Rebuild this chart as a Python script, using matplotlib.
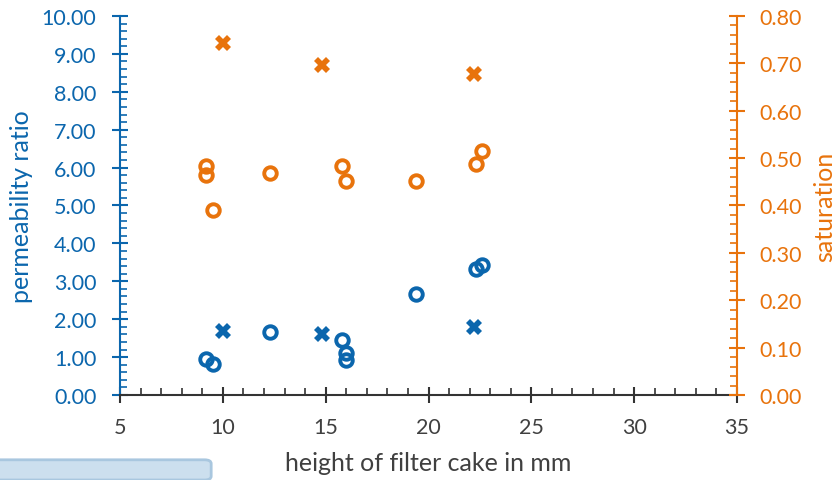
import matplotlib
matplotlib.use("Agg")
import matplotlib.pyplot as plt
from matplotlib.ticker import MultipleLocator, FormatStrFormatter
from matplotlib.patches import FancyBboxPatch

plt.rcParams['font.family'] = ['Lato', 'DejaVu Sans']

BLUE = '#0B66AD'
ORANGE = '#E8730C'
GRAY = '#404040'

# circles: measured samples
h_circ = [9.2, 9.5, 12.3, 15.8, 16.0, 16.0, 19.4, 22.3, 22.6]
perm_circ = [0.95, 0.82, 1.66, 1.45, 1.11, 0.92, 2.66, 3.32, 3.43]
h_circ_sat = [9.2, 9.2, 9.5, 12.3, 15.8, 16.0, 19.4, 22.3, 22.6]
sat_circ = [0.483, 0.464, 0.391, 0.469, 0.483, 0.452, 0.452, 0.488, 0.515]

# crosses
h_cross = [10.0, 14.8, 22.2]
perm_cross = [1.69, 1.61, 1.79]
sat_cross = [0.743, 0.697, 0.678]

fig = plt.figure(figsize=(8.38, 4.81), dpi=100)
ax = fig.add_axes([0.1432, 0.1767, 0.7363, 0.788])
ax2 = ax.twinx()

ms_c = 9
ax.plot(h_circ, perm_circ, 'o', mfc='none', mec=BLUE, mew=2.8, ms=ms_c, ls='none', zorder=3)
ax.plot(h_cross, perm_cross, 'X', color=BLUE, ms=11, mew=0, ls='none', zorder=3)
ax2.plot(h_circ_sat, sat_circ, 'o', mfc='none', mec=ORANGE, mew=2.8, ms=ms_c, ls='none')
ax2.plot(h_cross, sat_cross, 'X', color=ORANGE, ms=11, mew=0, ls='none')

ax.set_xlim(5, 35)
ax.set_ylim(0, 10)
ax2.set_ylim(0, 0.8)

ax.xaxis.set_major_locator(MultipleLocator(5))
ax.xaxis.set_minor_locator(MultipleLocator(1))
ax.yaxis.set_major_locator(MultipleLocator(1))
ax.yaxis.set_minor_locator(MultipleLocator(0.2))
ax.yaxis.set_major_formatter(FormatStrFormatter('%.2f'))
ax2.yaxis.set_major_locator(MultipleLocator(0.1))
ax2.yaxis.set_minor_locator(MultipleLocator(0.02))
ax2.yaxis.set_major_formatter(FormatStrFormatter('%.2f'))

for a in (ax, ax2):
    a.spines['top'].set_visible(False)
ax.spines['right'].set_visible(False)
ax2.spines['left'].set_visible(False)
ax2.spines['bottom'].set_visible(False)
ax.spines['left'].set_color(BLUE)
ax.spines['left'].set_linewidth(1.5)
ax2.spines['right'].set_color(ORANGE)
ax2.spines['right'].set_linewidth(1.5)
ax.spines['bottom'].set_color('#333333')
ax.spines['bottom'].set_linewidth(1.5)

ax.tick_params(axis='x', which='major', direction='inout', length=12, width=1.5, color='#333333',
               labelsize=15.5, labelcolor=GRAY, pad=10)
ax.tick_params(axis='x', which='minor', direction='in', length=5, width=1.2, color='#333333')
ax.tick_params(axis='y', which='major', direction='inout', length=12, width=1.5, color=BLUE,
               labelsize=15.5, labelcolor=BLUE, pad=11)
ax.tick_params(axis='y', which='minor', direction='in', length=5, width=1.2, color=BLUE)
ax2.tick_params(axis='y', which='major', direction='inout', length=12, width=1.5, color=ORANGE,
                labelsize=15.5, labelcolor=ORANGE, pad=10)
ax2.tick_params(axis='y', which='minor', direction='in', length=5, width=1.2, color=ORANGE)

ax.set_xlabel('height of filter cake in mm', fontsize=18, color=GRAY, labelpad=10)
ax.set_ylabel('permeability ratio', fontsize=18, color=BLUE, labelpad=6)
ax2.set_ylabel('saturation', fontsize=18, color=ORANGE, labelpad=8)

box = FancyBboxPatch((-0.01, 0.0), 0.262, 0.042, transform=fig.transFigure,
                     boxstyle='round,pad=0,rounding_size=0.008',
                     fc='#CCDFEE', ec='#A9C7DF', lw=2, clip_on=False)
fig.patches.append(box)

fig.savefig('out.png', dpi=100)
